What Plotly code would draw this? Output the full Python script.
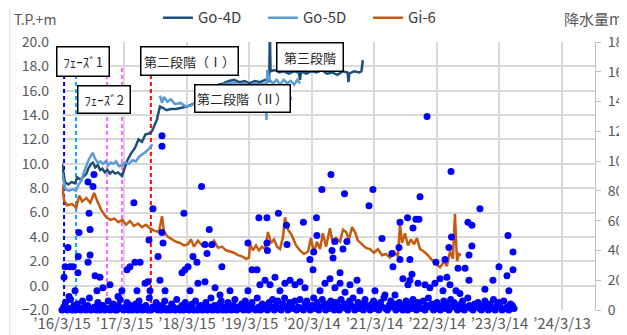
import pandas as pd
import plotly.graph_objects as go

# ---------------- water level (T.P.+m) ----------------
go4d_date = ["2016-03-15", "2016-03-22", "2016-04-01", "2016-04-20", "2016-05-10", "2016-06-01", "2016-06-11",
             "2016-07-01", "2016-07-20", "2016-08-05", "2016-08-15", "2016-09-01", "2016-09-12", "2016-09-25",
             "2016-10-10", "2016-10-23", "2016-11-05", "2016-11-21", "2016-12-05", "2016-12-20", "2017-01-05",
             "2017-01-19", "2017-02-05", "2017-02-28", "2017-03-15", "2017-04-01", "2017-04-20", "2017-05-15",
             "2017-06-05", "2017-06-25", "2017-07-15", "2017-08-05", "2017-08-23", "2017-09-05", "2017-09-20",
             "2017-10-08", "2017-10-25", "2017-11-15", "2017-12-10", "2018-01-10", "2018-02-10", "2018-03-15",
             "2018-04-15", "2018-05-15", "2018-06-15", "2018-07-15", "2018-08-15", "2018-09-15", "2018-10-15",
             "2018-11-15", "2018-12-15", "2019-01-15", "2019-02-15", "2019-03-15", "2019-04-15", "2019-05-15",
             "2019-06-15", "2019-07-08", "2019-07-12", "2019-07-16", "2019-08-10", "2019-09-05", "2019-10-01",
             "2019-11-01", "2019-12-01", "2019-12-28", "2020-01-04", "2020-01-10", "2020-02-10", "2020-03-10",
             "2020-04-10", "2020-05-10", "2020-06-10", "2020-07-10", "2020-08-10", "2020-09-10", "2020-10-08",
             "2020-10-13", "2020-10-18", "2020-11-15", "2020-12-15", "2020-12-28", "2021-01-05"]
go4d_level = [10.0, 9.2, 8.5, 8.3, 8.5, 8.4, 8.9,
              8.7, 9.0, 9.2, 9.6, 10.0, 10.1, 9.7,
              9.9, 9.5, 9.6, 9.3, 9.5, 9.2, 9.4,
              9.2, 9.3, 9.0, 9.6, 10.3, 10.8, 11.3,
              12.0, 11.8, 12.4, 12.5, 12.7, 13.1, 13.6,
              14.7, 14.6, 14.4, 14.5, 14.5, 14.6, 14.7,
              14.9, 15.0, 15.4, 15.9, 16.3, 16.5, 16.6,
              16.8, 16.9, 16.7, 16.8, 16.6, 16.8, 16.7,
              16.9, 16.8, 21.0, 17.6, 17.7, 17.5, 17.6,
              17.4, 17.6, 17.5, 16.9, 17.6, 17.4, 17.6,
              17.5, 17.7, 17.4, 17.5, 17.3, 17.6, 17.5,
              16.7, 17.4, 17.6, 17.5, 17.6, 18.5]

go5d_date = ["2016-03-15", "2016-03-22", "2016-04-05", "2016-04-25", "2016-05-15", "2016-06-05", "2016-06-20",
             "2016-07-05", "2016-07-20", "2016-08-05", "2016-08-20", "2016-09-10", "2016-09-25", "2016-10-10",
             "2016-10-25", "2016-11-10", "2016-11-25", "2016-12-10", "2016-12-25", "2017-01-10", "2017-01-25",
             "2017-02-10", "2017-02-28", "2017-03-20", "2017-04-10", "2017-05-01", "2017-05-20", "2017-06-10",
             "2017-07-01", "2017-07-20", "2017-08-10", "2017-08-25", "2017-09-20", "2017-10-08", "2017-10-20",
             "2017-11-01", "2017-11-20", "2017-12-10", "2018-01-05", "2018-02-05", "2018-03-10", "2018-04-10",
             "2018-05-15", "2018-06-15", "2018-07-15", "2018-08-15", "2018-09-15", "2018-10-15", "2018-11-15",
             "2018-12-15", "2019-01-15", "2019-02-15", "2019-03-15", "2019-04-15", "2019-05-15", "2019-06-15",
             "2019-06-22", "2019-06-27", "2019-07-10", "2019-08-01", "2019-08-20", "2019-09-10", "2019-10-01",
             "2019-10-20", "2019-11-10", "2019-12-01", "2019-12-20", "2020-01-05"]
go5d_level = [9.3, 8.7, 7.9, 7.8, 7.9, 7.8, 8.3,
              8.6, 9.3, 9.8, 10.4, 10.9, 10.4, 10.1,
              10.2, 10.0, 10.2, 9.9, 10.1, 10.0, 10.2,
              9.8, 9.9, 10.1, 10.0, 10.3, 10.2, 10.6,
              10.8, 11.0, 11.3, 11.6, None, 15.6, 15.0,
              15.5, 15.1, 15.3, 14.9, 15.0, 14.7, 14.8,
              15.1, 15.5, 16.0, 16.2, 16.4, 16.5, 16.6,
              16.7, 16.5, 16.6, 16.4, 16.6, 16.5, 16.6,
              13.6, 17.7, 16.9, 16.6, 16.9, 16.5, 16.9,
              16.6, 16.8, 16.5, 16.9, 16.6]

gi6_date = ["2016-03-15", "2016-03-27", "2016-04-13", "2016-05-13", "2016-06-06", "2016-06-24", "2016-07-11",
            "2016-08-04", "2016-08-27", "2016-09-19", "2016-10-08", "2016-10-31", "2016-11-29", "2016-12-23",
            "2017-01-15", "2017-02-07", "2017-03-02", "2017-03-24", "2017-04-16", "2017-05-09", "2017-06-02",
            "2017-06-25", "2017-07-19", "2017-08-11", "2017-09-09", "2017-10-02", "2017-10-20", "2017-11-01",
            "2017-11-24", "2017-12-17", "2018-01-10", "2018-02-02", "2018-02-25", "2018-03-21", "2018-04-07",
            "2018-04-25", "2018-05-18", "2018-06-11", "2018-07-04", "2018-07-27", "2018-08-20", "2018-09-12",
            "2018-10-05", "2018-10-29", "2018-11-21", "2018-12-14", "2019-01-07", "2019-01-30", "2019-02-23",
            "2019-03-12", "2019-03-18", "2019-04-04", "2019-04-22", "2019-05-09", "2019-05-27", "2019-06-14",
            "2019-07-01", "2019-07-19", "2019-08-05", "2019-08-23", "2019-09-09", "2019-09-27", "2019-10-08",
            "2019-10-26", "2019-11-18", "2019-12-12", "2020-01-04", "2020-01-27", "2020-02-20", "2020-03-08",
            "2020-03-26", "2020-04-12", "2020-04-30", "2020-05-17", "2020-06-04", "2020-06-27", "2020-07-15",
            "2020-08-01", "2020-08-25", "2020-09-11", "2020-09-29", "2020-10-16", "2020-11-03", "2020-11-20",
            "2020-12-08", "2020-12-31", "2021-01-23", "2021-02-16", "2021-03-11", "2021-04-03", "2021-04-27",
            "2021-05-20", "2021-06-13", "2021-07-06", "2021-07-29", "2021-08-10", "2021-08-22", "2021-09-08",
            "2021-09-26", "2021-10-13", "2021-10-31", "2021-11-17", "2021-12-05", "2021-12-28", "2022-01-20",
            "2022-02-13", "2022-03-08", "2022-04-01", "2022-04-24", "2022-05-11", "2022-05-29", "2022-06-15",
            "2022-06-27", "2022-07-09", "2022-07-21", "2022-08-01"]
gi6_level = [8.3, 7.0, 6.6, 6.7, 6.4, 7.4, 6.9,
             7.2, 6.8, 7.6, 6.9, 6.2, 5.6, 5.4,
             5.5, 5.2, 5.4, 5.0, 5.3, 4.9, 5.1,
             4.8, 5.0, 4.7, 4.5, 4.4, 5.7, 4.4,
             4.0, 3.8, 3.6, 3.5, 3.3, 3.4, 3.8,
             3.2, 3.7, 3.3, 3.4, 3.2, 3.7, 3.1,
             3.2, 2.9, 2.8, 2.7, 2.5, 2.4, 2.2,
             2.3, 3.4, 2.9, 3.3, 2.9, 3.2, 3.0,
             4.4, 3.5, 3.8, 3.2, 3.0, 4.0, 5.6,
             4.6, 4.1, 3.3, 2.9, 2.6, 2.8, 3.9,
             2.7, 3.6, 3.0, 4.3, 3.2, 4.7, 3.4,
             3.9, 3.6, 4.6, 4.4, 3.8, 4.8, 4.4,
             3.7, 3.4, 3.1, 3.0, 2.7, 3.0, 2.5,
             2.6, 2.3, 2.8, 2.4, 5.0, 3.5, 4.3,
             3.3, 3.8, 3.4, 3.9, 3.0, 2.8, 2.5,
             2.1, 1.8, 1.5, 2.0, 1.6, 2.8, 2.2,
             5.9, 2.0, 2.6, 2.5]

# ---------------- precipitation (mm) ----------------
RAIN_START = "2016-03-15"
# light rain, one reading every 10 days
rain_light_mm = [0, 2, 5, 0, 1, 7, 0, 3, 0, 4, 1, 0, 6, 2, 0, 3, 8, 0, 1, 2,
                 0, 5, 0, 2, 3, 0, 1, 6, 0, 2, 4, 0, 0, 3, 7, 1, 0, 2, 5, 0,
                 3, 0, 1, 4, 0, 6, 2, 0, 1, 3, 0, 8, 0, 2, 1, 5, 0, 3, 0, 2,
                 6, 0, 1, 0, 4, 2, 0, 7, 1, 0, 3, 0, 5, 2, 0, 1, 4, 0, 6, 0,
                 2, 3, 0, 1, 5, 0, 2, 8, 0, 3, 1, 0, 4, 6, 0, 2, 0, 5, 1, 0,
                 3, 7, 0, 2, 1, 4, 0, 6, 3, 0, 2, 5, 1, 0, 8, 2, 0, 4, 1, 3,
                 0, 5, 2, 7, 0, 3, 6, 1, 0, 4, 8, 2, 0, 5, 3, 1, 6, 0, 2, 7,
                 1, 0, 4, 6, 2, 0, 3, 8, 1, 5, 0, 2, 7, 3, 0, 4, 1, 6, 2, 0,
                 5, 3, 0, 7, 2, 4, 1, 0, 6, 3, 8, 0, 2, 5, 1, 4, 0, 7, 3, 2,
                 0, 4, 6, 1, 3, 0, 5, 2, 8, 1, 0, 3, 6, 2, 4, 0, 1, 5, 3, 0,
                 2, 6, 0, 4, 1, 7, 3, 0, 5, 2, 1, 6, 0, 3, 8, 2, 4, 0, 1, 5,
                 3, 0, 2, 6, 1, 4, 0, 7, 2, 5, 3, 0, 1, 4, 6, 0, 2, 8, 3, 1,
                 0, 4, 2, 5, 1, 0, 3, 6, 2, 0, 4, 1, 7, 0, 3, 5, 2, 0, 6, 1,
                 2, 0, 4, 3, 1]
# heavier rain days: day number since RAIN_START and amount
rain_day = [12, 18, 35, 41, 47, 64, 76, 93, 95, 99,
            152, 152, 158, 164, 164, 181, 187, 193, 204, 222,
            239, 280, 327, 350, 380, 397, 420, 426, 438, 456,
            485, 502, 508, 514, 531, 561, 572, 584, 584, 584,
            590, 602, 701, 712, 718, 736, 748, 765, 788, 794,
            815, 835, 835, 847, 860, 876, 894, 923, 934, 981,
            1086, 1086, 1110, 1139, 1150, 1156, 1186, 1197, 1197, 1200,
            1215, 1244, 1264, 1273, 1302, 1311, 1314, 1320, 1332, 1361,
            1390, 1410, 1419, 1448, 1466, 1470, 1486, 1489, 1507, 1518,
            1536, 1565, 1571, 1577, 1583, 1594, 1594, 1624, 1624, 1641,
            1650, 1653, 1664, 1682, 1723, 1740, 1793, 1816, 1828, 1869,
            1886, 1927, 1933, 1945, 1968, 1974, 1974, 1991, 2018, 2021,
            2032, 2032, 2044, 2050, 2067, 2079, 2085, 2091, 2120, 2132,
            2149, 2178, 2184, 2208, 2225, 2237, 2248, 2260, 2266, 2272,
            2275, 2301, 2313, 2324, 2354, 2371, 2377, 2377, 2394, 2394,
            2441, 2470, 2517, 2552, 2599, 2605, 2610, 2634, 2634]
rain_mm = [22, 29, 42, 9, 29, 29, 13, 25, 36, 52,
           32, 86, 65, 54, 37, 83, 91, 23, 13, 22,
           15, 17, 9, 13, 27, 29, 72, 32, 13, 32,
           18, 19, 47, 13, 68, 36, 20, 117, 110, 52,
           45, 13, 25, 65, 27, 29, 13, 36, 32, 18,
           83, 44, 19, 38, 54, 44, 15, 10, 29, 13,
           45, 13, 27, 27, 62, 17, 20, 62, 45, 40,
           17, 22, 65, 13, 18, 57, 44, 142, 20, 17,
           19, 59, 15, 34, 27, 39, 62, 50, 13, 81,
           18, 21, 91, 40, 35, 46, 15, 25, 18, 41,
           78, 12, 46, 17, 20, 13, 70, 81, 13, 48,
           10, 38, 29, 10, 42, 59, 34, 21, 62, 17,
           34, 20, 24, 55, 61, 18, 61, 76, 17, 130,
           15, 18, 32, 21, 13, 34, 22, 42, 17, 93,
           49, 13, 28, 11, 28, 59, 37, 20, 57, 43,
           68, 14, 20, 29, 23, 50, 13, 39, 27]

# ---------------- construction phases ----------------
phase_date = ["2016-03-27", "2016-06-05", "2016-12-03", "2017-02-28", "2017-08-16"]
phase_color = ["#0000FF", "#00B0F0", "#FF66FF", "#FF66FF", "#FF0000"]

stage_text = ["ﾌｪｰｽﾞ1", "ﾌｪｰｽﾞ2", "第二段階（Ⅰ）", "第二段階（Ⅱ）", "第三段階"]
stage_date = ["2016-07-13", "2016-11-18", "2018-03-27", "2019-02-05", "2020-03-05"]
stage_level = [18.44, 15.32, 18.48, 15.40, 18.73]
stage_w = [51, 51, 96, 94, 65]
stage_h = [28, 26, 27, 26, 27]

tick_dates = ["2016-03-15", "2017-03-15", "2018-03-15", "2019-03-15", "2020-03-14",
              "2021-03-14", "2022-03-14", "2023-03-14", "2024-03-13"]
tick_labels = ["’16/3/15", "’17/3/15", "’18/3/15", "’19/3/15", "’20/3/14",
               "’21/3/14", "’22/3/14", "’23/3/14", "’24/3/13"]

FONT = "Noto Sans CJK JP, Noto Sans, sans-serif"
GRID = "#D9D9D9"

start = pd.Timestamp(RAIN_START)
rain_x = list(pd.date_range(start, periods=len(rain_light_mm), freq="10D")) + \
    list(start + pd.to_timedelta(rain_day, unit="D"))
rain_y = rain_light_mm + rain_mm

fig = go.Figure()

fig.add_trace(go.Scatter(x=go4d_date, y=go4d_level, name="Go-4D", mode="lines",
                         line=dict(color="#1F4E79", width=2.5)))
fig.add_trace(go.Scatter(x=go5d_date, y=go5d_level, name="Go-5D", mode="lines",
                         line=dict(color="#5B9BD5", width=2.5)))
fig.add_trace(go.Scatter(x=gi6_date, y=gi6_level, name="Gi-6", mode="lines",
                         line=dict(color="#C55A11", width=2.5)))
fig.add_trace(go.Scatter(x=rain_x, y=rain_y, name="降水量", mode="markers", yaxis="y2",
                         marker=dict(color="#0000FF", size=7), showlegend=False,
                         cliponaxis=False))

for d, c in zip(phase_date, phase_color):
    fig.add_shape(type="line", xref="x", yref="y", x0=d, x1=d, y0=-2, y1=18,
                  line=dict(color=c, width=2, dash="4px,3px"), layer="between")

for t, d, v, w, h in zip(stage_text, stage_date, stage_level, stage_w, stage_h):
    fig.add_annotation(x=d, y=v, xref="x", yref="y", text=t, showarrow=False,
                       width=w, height=h, bgcolor="white", bordercolor="black",
                       borderwidth=1.5, borderpad=0,
                       font=dict(family=FONT, size=13, color="#262626"))

# axis captions
fig.add_annotation(x=-0.094, y=1.086, xref="paper", yref="paper", text="T.P.+m",
                   showarrow=False, xanchor="left", yanchor="middle",
                   font=dict(family=FONT, size=14, color="#595959"))
fig.add_annotation(x=0.938, y=1.086, xref="paper", yref="paper", text="降水量mm",
                   showarrow=False, xanchor="left", yanchor="middle",
                   font=dict(family=FONT, size=15, color="#595959"))

# chart-area frame
fig.add_shape(type="rect", xref="paper", yref="paper", x0=-0.098, x1=1.3, y0=-0.3, y1=1.13,
              line=dict(color=GRID, width=1), layer="below")

# the page body adds an 8px offset, so margins are trimmed by that amount
fig.update_layout(
    width=627, height=335,
    margin=dict(l=54, r=40, t=34, b=33, autoexpand=False),
    paper_bgcolor="white", plot_bgcolor="white",
    font=dict(family=FONT, size=14, color="#595959"),
    xaxis=dict(type="date", range=["2016-03-15", "2024-09-22"],
               tickmode="array", tickvals=tick_dates, ticktext=tick_labels,
               showgrid=True, gridcolor=GRID, gridwidth=2, zeroline=False,
               ticks="", ticklabelstandoff=3, tickfont=dict(size=15), automargin=False),
    yaxis=dict(range=[-2, 20], dtick=2, tickformat=".1f", showgrid=True,
               gridcolor=GRID, gridwidth=2, zeroline=False, ticks="",
               ticklabelstandoff=12, tickfont=dict(size=14), automargin=False),
    yaxis2=dict(range=[0, 180], dtick=20, overlaying="y", side="right", showgrid=False,
                showline=True, linecolor="#BFBFBF", linewidth=1, ticks="outside",
                ticklen=5, tickcolor="#BFBFBF", zeroline=False,
                ticklabelstandoff=4, tickfont=dict(size=14), automargin=False),
    legend=dict(orientation="h", x=0.18, xanchor="left", y=1.09, yanchor="middle",
                font=dict(family=FONT, size=15, color="#404040"),
                bgcolor="rgba(0,0,0,0)", entrywidth=60, itemwidth=30),
)

fig.write_html("out.html")
